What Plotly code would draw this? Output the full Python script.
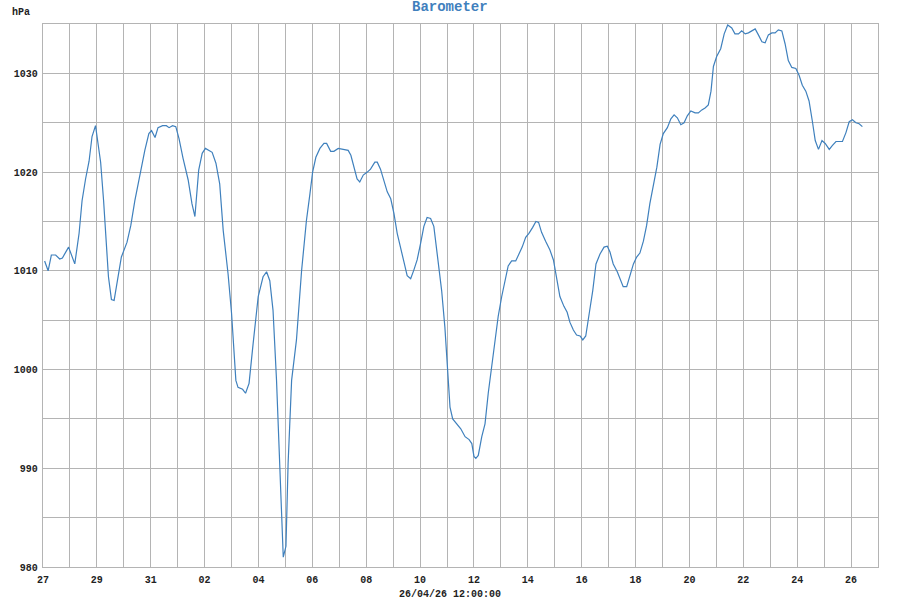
import datetime as dt
import plotly.graph_objects as go

# Time of each reading, in days after 27 Mar 2026 00:00
day_offsets = [
    0.06, 0.19, 0.31, 0.47, 0.62, 0.72, 0.95, 1.18, 1.34, 1.45, 1.58, 1.71, 1.82, 1.95,
    2.14, 2.25, 2.43, 2.54, 2.64, 2.79, 2.91, 3.12, 3.26, 3.41, 3.60, 3.78, 3.93, 4.03,
    4.16, 4.27, 4.44, 4.58, 4.68, 4.81, 4.93, 5.05, 5.20, 5.39, 5.53, 5.64, 5.78, 5.91,
    6.03, 6.28, 6.42, 6.56, 6.69, 6.87, 7.00, 7.06, 7.16, 7.24, 7.41, 7.52, 7.65, 7.80,
    7.99, 8.17, 8.30, 8.42, 8.54, 8.67, 8.79, 8.92, 9.02, 9.10, 9.23, 9.41, 9.60, 9.78,
    9.91, 10.01, 10.13, 10.28, 10.43, 10.53, 10.68, 10.80, 10.96, 11.14, 11.33, 11.43,
    11.54, 11.66, 11.76, 11.89, 12.04, 12.16, 12.32, 12.41, 12.53, 12.66, 12.78, 12.91,
    13.03, 13.15, 13.28, 13.40, 13.52, 13.65, 13.77, 13.89, 14.02, 14.14, 14.26, 14.39,
    14.51, 14.67, 14.80, 14.92, 15.01, 15.11, 15.21, 15.36, 15.51, 15.67, 15.82, 15.92,
    16.00, 16.07, 16.16, 16.29, 16.41, 16.53, 16.66, 16.78, 16.90, 17.03, 17.15, 17.27,
    17.40, 17.55, 17.67, 17.79, 17.92, 18.04, 18.18, 18.30, 18.40, 18.51, 18.66, 18.82,
    18.95, 19.07, 19.19, 19.34, 19.46, 19.56, 19.69, 19.81, 19.94, 20.04, 20.15, 20.28,
    20.41, 20.53, 20.68, 20.83, 20.95, 21.05, 21.17, 21.32, 21.45, 21.54, 21.67, 21.79,
    21.92, 22.04, 22.16, 22.29, 22.41, 22.53, 22.66, 22.79, 22.91, 23.03, 23.18, 23.31,
    23.43, 23.55, 23.68, 23.80, 23.92, 24.05, 24.21, 24.33, 24.46, 24.58, 24.70, 24.80,
    24.89, 25.01, 25.16, 25.29, 25.42, 25.57, 25.69, 25.82, 25.94, 26.07, 26.19, 26.32,
    26.44, 26.56, 26.69, 26.81, 26.93, 27.06, 27.18, 27.30, 27.43, 27.55, 27.67, 27.80,
    27.95, 28.07, 28.19, 28.32, 28.44, 28.56, 28.67, 28.79, 28.92, 29.04, 29.19, 29.31,
    29.44, 29.56, 29.68, 29.81, 29.93, 30.05, 30.18, 30.30, 30.42,
]

# Pressure readings (hPa)
pressure_hpa = [
    1011.0, 1010.0, 1011.6, 1011.6, 1011.2, 1011.3, 1012.4, 1010.7, 1013.8, 1017.1, 1019.3,
    1021.1, 1023.6, 1024.7, 1021.0, 1017.1, 1009.4, 1007.1, 1007.0, 1009.4, 1011.4, 1012.9,
    1014.6, 1017.1, 1019.8, 1022.2, 1023.9, 1024.2, 1023.5, 1024.5, 1024.7, 1024.7, 1024.5,
    1024.7, 1024.6, 1023.4, 1021.4, 1019.2, 1016.8, 1015.5, 1020.2, 1021.9, 1022.4, 1022.0,
    1020.9, 1018.8, 1014.1, 1009.7, 1005.7, 1003.0, 998.9, 998.2, 998.0, 997.6, 998.6,
    1002.6, 1007.4, 1009.4, 1009.9, 1009.0, 1006.0, 998.9, 990.5, 981.0, 982.1, 990.5,
    998.9, 1003.0, 1010.0, 1015.1, 1017.8, 1020.0, 1021.5, 1022.4, 1022.9, 1022.9, 1022.1,
    1022.1, 1022.4, 1022.3, 1022.2, 1021.7, 1020.5, 1019.3, 1019.0, 1019.7, 1020.0, 1020.3,
    1021.0, 1021.0, 1020.3, 1019.1, 1018.0, 1017.3, 1015.8, 1013.8, 1012.4, 1010.9, 1009.5,
    1009.2, 1010.1, 1011.1, 1012.8, 1014.5, 1015.4, 1015.3, 1014.5, 1011.1, 1008.0, 1004.3,
    1000.3, 996.2, 995.0, 994.5, 994.0, 993.2, 992.9, 992.5, 991.2, 991.0, 991.3, 993.2,
    994.5, 997.6, 1000.3, 1003.0, 1005.4, 1007.4, 1009.0, 1010.5, 1011.0, 1011.0, 1011.7,
    1012.4, 1013.4, 1013.8, 1014.4, 1015.0, 1014.9, 1013.9, 1013.0, 1012.1, 1011.1, 1009.2,
    1007.4, 1006.4, 1005.8, 1004.8, 1004.0, 1003.5, 1003.4, 1003.0, 1003.4, 1005.7, 1008.0,
    1010.7, 1011.7, 1012.4, 1012.5, 1011.9, 1010.7, 1009.9, 1008.9, 1008.4, 1008.4, 1009.4,
    1010.7, 1011.4, 1011.8, 1013.0, 1014.6, 1016.8, 1018.6, 1020.5, 1022.8, 1023.9, 1024.5,
    1025.4, 1025.8, 1025.5, 1024.8, 1025.0, 1025.7, 1026.2, 1026.0, 1026.0, 1026.3, 1026.5,
    1026.8, 1028.2, 1030.7, 1031.7, 1032.5, 1034.0, 1034.9, 1034.6, 1034.0, 1034.0, 1034.3,
    1034.0, 1034.1, 1034.3, 1034.5, 1033.9, 1033.2, 1033.1, 1033.9, 1034.1, 1034.1, 1034.4,
    1034.3, 1033.0, 1031.3, 1030.6, 1030.5, 1029.8, 1028.8, 1028.2, 1027.2, 1025.2, 1023.2,
    1022.3, 1023.2, 1022.9, 1022.3, 1022.7, 1023.1, 1023.1, 1023.1, 1024.0, 1025.1, 1025.3,
    1025.0, 1024.9, 1024.6,
]

start = dt.datetime(2026, 3, 27)
times = [start + dt.timedelta(days=d) for d in day_offsets]

title_text = "Barometer"
unit_text = "hPa"
footer_text = "26/04/26 12:00:00"

mono = "Liberation Mono, Courier New, monospace"
grid_col = "#b4b4b4"
text_col = "#222222"

# plot area geometry (px)
L, R, T, B = 43, 22, 24, 33
PW, PH = 900 - L - R, 600 - T - B

fig = go.Figure()
fig.add_trace(go.Scatter(
    x=times, y=pressure_hpa, mode="lines",
    line=dict(color="#3f80bd", width=1.2),
    hoverinfo="x+y",
))

fig.update_layout(
    width=900, height=600,
    margin=dict(l=L, r=R, t=T, b=B, autoexpand=False),
    paper_bgcolor="white", plot_bgcolor="white",
    showlegend=False,
    annotations=[
        dict(text=title_text, xref="paper", yref="paper", x=(450 - L) / PW, y=1 + 17 / PH,
             xanchor="center", yanchor="middle", showarrow=False,
             font=dict(family=mono, size=14, color="#3f80bd", weight="bold")),
        dict(text=unit_text, xref="paper", yref="paper", x=(10 - L) / PW, y=1 + 12 / PH,
             xanchor="left", yanchor="middle", showarrow=False,
             font=dict(family=mono, size=10, color=text_col, weight="bold")),
        dict(text=footer_text, xref="paper", yref="paper", x=(450 - L) / PW, y=-27 / PH,
             xanchor="center", yanchor="middle", showarrow=False,
             font=dict(family=mono, size=10, color=text_col, weight="bold")),
    ],
)

fig.update_xaxes(
    type="date", automargin=False,
    range=[start, start + dt.timedelta(days=31)],
    tick0=start, dtick=2 * 86400000, tickformat="%d",
    showgrid=True, gridcolor=grid_col, gridwidth=1.4,
    minor=dict(dtick=86400000, showgrid=True, gridcolor=grid_col, gridwidth=1.4),
    showline=True, linecolor=grid_col, linewidth=1.4, mirror=True,
    ticks="", ticklabelstandoff=3,
    tickfont=dict(family=mono, size=10, color=text_col, weight="bold"),
    zeroline=False,
)
fig.update_yaxes(
    automargin=False,
    range=[980, 1035], tick0=980, dtick=10,
    showgrid=True, gridcolor=grid_col, gridwidth=1.4,
    minor=dict(dtick=5, showgrid=True, gridcolor=grid_col, gridwidth=1.4),
    showline=True, linecolor=grid_col, linewidth=1.4, mirror=True,
    ticks="", ticklabelstandoff=2,
    tickfont=dict(family=mono, size=10, color=text_col, weight="bold"),
    zeroline=False,
)

fig.write_html(
    "out.html",
    config={"displayModeBar": False},
    post_script="document.body.style.margin='0px';document.body.style.overflow='hidden';",
)
